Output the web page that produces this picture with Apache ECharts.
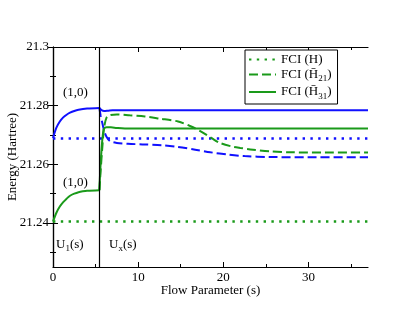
<!DOCTYPE html>
<html><head><meta charset="utf-8">
<script src="https://cdn.jsdelivr.net/npm/echarts@6/dist/echarts.min.js"></script>
<style>html,body{margin:0;padding:0;background:#fff}#c{width:407px;height:315px}</style>
</head><body><div id="c"></div>
<script>
// ---- data ----
const splitAt = 5.45;
const xMajor = [0, 10, 20, 30];
const xMinor = [5, 15, 25, 35];
const yMajor = [21.24, 21.26, 21.28, 21.3];
const yMinor = [21.23, 21.25, 21.27, 21.29];
const yLabels = ['21.24', '21.26', '21.28', '21.3'];

const blueDottedX = [0, 37];
const blueDottedY = [21.2688, 21.2688];
const greenDottedX = [0, 37];
const greenDottedY = [21.2405, 21.2405];

const blueU1X = [0, 0.4, 0.8, 1.2, 1.6, 2.0, 2.5, 3, 4, 5.45];
const blueU1Y = [21.269, 21.2725, 21.2746, 21.276, 21.2769, 21.2776, 21.2782, 21.2786, 21.279, 21.2792];
const greenU1X = [0, 0.4, 0.8, 1.2, 1.6, 2.0, 2.5, 3, 3.5, 4, 5.45];
const greenU1Y = [21.2405, 21.2435, 21.2456, 21.2471, 21.2483, 21.2493, 21.25, 21.2505, 21.2508, 21.251, 21.2512];

const blueSolidX = [5.45, 5.7, 6.0, 6.5, 7, 10, 20, 30, 37];
const blueSolidY = [21.2792, 21.2785, 21.2782, 21.2783, 21.2784, 21.2784, 21.2784, 21.2784, 21.2784];
const blueDashX = [5.45, 5.6, 5.8, 6.0, 6.3, 6.7, 7.5, 8.8, 10.5, 12.8, 14.5, 16.7, 18.5, 20.6, 22.5, 25.5, 30, 37];
const blueDashY = [21.2792, 21.2765, 21.274, 21.2715, 21.2693, 21.2679, 21.2673, 21.267, 21.2668, 21.2665, 21.266, 21.265, 21.2641, 21.2633, 21.2628, 21.2625, 21.2624, 21.2624];
const greenDashX = [5.45, 5.6, 5.8, 6.0, 6.3, 6.7, 7.5, 9, 10.8, 12.5, 14.7, 16.3, 17.5, 18.6, 19.6, 21, 22, 23.5, 25.5, 28, 32, 37];
const greenDashY = [21.2512, 21.258, 21.266, 21.2725, 21.276, 21.2768, 21.277, 21.2767, 21.2763, 21.2756, 21.2746, 21.2728, 21.271, 21.269, 21.2673, 21.2661, 21.2656, 21.265, 21.2644, 21.2641, 21.264, 21.264];
const greenSolidX = [5.45, 5.55, 5.7, 5.85, 6.0, 6.3, 6.8, 7.5, 9, 37];
const greenSolidY = [21.2512, 21.258, 21.265, 21.27, 21.2722, 21.2726, 21.2726, 21.2724, 21.2722, 21.2722];

const legendNames = ['FCI (H)', 'FCI (H21)', 'FCI (H31)'];

// ---- chart ----
const BLUE = '#1010ff';
const GREEN = '#1a9a1a';
const FONT = 'Liberation Serif';
const zip = (xs, ys) => xs.map((x, i) => [x, ys[i]]);

function mkX(pos, vals, len, labels, extra) {
  return Object.assign({
    type: 'value', position: pos, min: 0, max: 37,
    axisLine: { show: true, lineStyle: { color: '#000', width: 1.2 } },
    axisTick: { show: true, inside: true, length: len, customValues: vals, lineStyle: { color: '#000', width: 1 } },
    axisLabel: { show: labels, customValues: vals, color: '#000', fontFamily: FONT, fontSize: 13, margin: 4 },
    splitLine: { show: false }
  }, extra || {});
}
function mkY(pos, vals, len, labels, extra) {
  return Object.assign({
    type: 'value', position: pos, min: 21.225, max: 21.3,
    axisLine: { show: true, lineStyle: { color: '#000', width: 1.2 } },
    axisTick: { show: true, inside: true, length: len, customValues: vals, lineStyle: { color: '#000', width: 1 } },
    axisLabel: { show: labels, customValues: vals, color: '#000', fontFamily: FONT, fontSize: 13, margin: 4,
      formatter: v => { const i = yMajor.findIndex(m => Math.abs(m - v) < 1e-6); return i >= 0 ? yLabels[i] : ''; } },
    splitLine: { show: false }
  }, extra || {});
}

function line(name, xs, ys, color, type, width, extra) {
  return Object.assign({
    name: name, type: 'line', data: zip(xs, ys), smooth: 0.3, showSymbol: false, symbol: 'none',
    lineStyle: { color: color, type: type, width: width }, itemStyle: { color: color },
    silent: true, animation: false, z: 3
  }, extra || {});
}

const dotType = [2.4, 5.4];
const dashType = [9, 4];

const chart = echarts.init(document.getElementById('c'), null, { renderer: 'canvas' });
chart.setOption({
  animation: false,
  backgroundColor: '#fff',
  grid: { left: 53, right: 39, top: 47, bottom: 48, containLabel: false, outerBoundsMode: 'none' },
  xAxis: [
    mkX('bottom', xMajor, 5, true, { name: 'Flow Parameter (s)', nameLocation: 'middle', nameGap: 17,
      nameMoveOverlap: false,
      nameTextStyle: { color: '#000', fontFamily: FONT, fontSize: 13 } }),
    mkX('bottom', xMinor, 3, false, { axisLine: { show: false } }),
    mkX('top', xMajor, 5, false),
    mkX('top', xMinor, 3, false, { axisLine: { show: false } })
  ],
  yAxis: [
    mkY('left', yMajor, 5, true, { name: 'Energy (Hartree)', nameLocation: 'middle', nameGap: 34,
      nameMoveOverlap: false,
      nameTextStyle: { color: '#000', fontFamily: FONT, fontSize: 13 } }),
    mkY('left', yMinor, 3, false, { axisLine: { show: false } }),
    mkY('right', yMajor, 5, false),
    mkY('right', yMinor, 3, false, { axisLine: { show: false } })
  ],
  legend: {
    data: legendNames, orient: 'vertical', left: 245, top: 50,
    backgroundColor: '#fff', borderColor: '#000', borderWidth: 1, borderRadius: 0,
    padding: [3, 6, 3, 3], itemGap: 2, itemWidth: 27, itemHeight: 14,
    selectedMode: false,
    itemStyle: { opacity: 0 },
    textStyle: { color: '#000', fontFamily: FONT, fontSize: 13,
      rich: { a: { fontFamily: FONT, fontSize: 13, color: '#000' },
              s: { fontFamily: FONT, fontSize: 9, color: '#000', padding: [9, 0, 0, 0] } } },
    formatter: n => {
      if (n === legendNames[1]) return '{a|FCI (H\u0304}{s|21}{a|)}';
      if (n === legendNames[2]) return '{a|FCI (H\u0304}{s|31}{a|)}';
      return '{a|FCI (H)}';
    }
  },
  series: [
    line('bd', blueDottedX, blueDottedY, BLUE, dotType, 2.4, { smooth: false }),
    line(legendNames[0], greenDottedX, greenDottedY, GREEN, dotType, 2.4, { smooth: false }),
    line('bu1', blueU1X, blueU1Y, BLUE, 'solid', 2),
    line('gu1', greenU1X, greenU1Y, GREEN, 'solid', 2),
    line('bs', blueSolidX, blueSolidY, BLUE, 'solid', 2),
    line('bdash', blueDashX, blueDashY, BLUE, dashType, 2),
    line(legendNames[1], greenDashX, greenDashY, GREEN, dashType, 2),
    line(legendNames[2], greenSolidX, greenSolidY, GREEN, 'solid', 2, {
      markLine: { silent: true, symbol: 'none', label: { show: false },
        lineStyle: { color: '#000', type: 'solid', width: 1.2 }, data: [{ xAxis: splitAt }] } })
  ],
  graphic: [
    { type: 'text', left: 63, top: 86, style: { text: '(1,0)', font: '13px "Liberation Serif"', fill: '#000' } },
    { type: 'text', left: 63, top: 176, style: { text: '(1,0)', font: '13px "Liberation Serif"', fill: '#000' } },
    { type: 'text', left: 56, top: 238, style: { text: '{a|U}{s|1}{a|(s)}', fill: '#000',
      rich: { a: { fontFamily: FONT, fontSize: 13 }, s: { fontFamily: FONT, fontSize: 9, padding: [9, 0, 0, 0] } } } },
    { type: 'text', left: 109, top: 238, style: { text: '{a|U}{s|x}{a|(s)}', fill: '#000',
      rich: { a: { fontFamily: FONT, fontSize: 13 }, s: { fontFamily: FONT, fontSize: 9, padding: [9, 0, 0, 0] } } } }
  ]
});
</script>
</body></html>
